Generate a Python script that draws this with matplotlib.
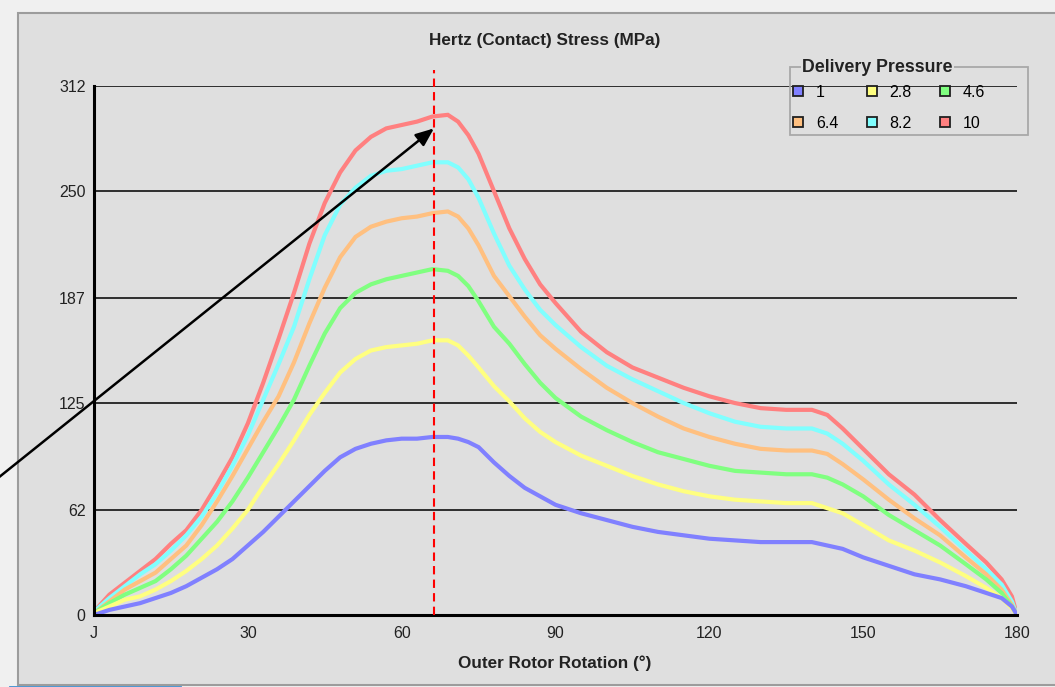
import matplotlib
matplotlib.use('Agg')
import matplotlib.pyplot as plt
from matplotlib.lines import Line2D
from matplotlib.patches import Rectangle

plt.rcParams['font.family'] = ['Liberation Sans', 'DejaVu Sans']

# outer rotor angle (deg)
angle = [0, 3, 6, 9, 12, 15, 18, 21, 24, 27, 30, 33, 36, 39, 42, 45, 48, 51, 54, 57,
         60, 63, 66, 69, 71, 73, 75, 78, 81, 84, 87, 90, 95, 100, 105, 110, 115, 120,
         125, 130, 135, 140, 143, 146, 150, 155, 160, 165, 170, 174, 177, 179, 180]

# hertz stress (MPa) for each delivery pressure
p1 = [0, 3, 5, 7, 10, 13, 17, 22, 27, 33, 41, 49, 58, 67, 76, 85, 93, 98, 101, 103,
      104, 104, 105, 105, 104, 102, 99, 90, 82, 75, 70, 65, 60, 56, 52, 49, 47, 45,
      44, 43, 43, 43, 41, 39, 34, 29, 24, 21, 17, 13, 10, 5, 0]
p2_8 = [1, 5, 9, 11, 15, 20, 26, 33, 41, 51, 62, 76, 89, 103, 118, 131, 143, 151, 156, 158,
        159, 160, 162, 162, 159, 153, 146, 135, 126, 116, 108, 102, 94, 88, 82, 77, 73, 70,
        68, 67, 66, 66, 63, 60, 53, 44, 38, 31, 23, 16, 10, 4, 0]
p4_6 = [1, 7, 12, 16, 20, 27, 35, 45, 55, 67, 81, 96, 111, 127, 147, 166, 181, 190, 195, 198,
        200, 202, 204, 203, 200, 194, 185, 170, 160, 148, 137, 128, 117, 109, 102, 96, 92, 88,
        85, 84, 83, 83, 81, 77, 70, 59, 50, 41, 30, 21, 13, 5, 0]
p6_4 = [1, 8, 15, 20, 25, 33, 41, 53, 67, 82, 98, 114, 129, 149, 172, 193, 211, 223, 229, 232,
        234, 235, 237, 238, 235, 228, 218, 200, 188, 176, 165, 157, 145, 134, 125, 117, 110, 105,
        101, 98, 97, 97, 95, 89, 80, 68, 57, 47, 34, 24, 15, 6, 0]
p8_2 = [2, 10, 17, 24, 30, 38, 47, 58, 72, 88, 106, 127, 148, 170, 198, 224, 242, 252, 259, 262,
        263, 265, 267, 267, 264, 257, 246, 225, 206, 192, 180, 171, 158, 147, 139, 132, 125, 119,
        114, 111, 110, 110, 107, 101, 91, 77, 65, 52, 38, 27, 18, 8, 0]
p10 = [2, 12, 19, 26, 33, 42, 50, 62, 77, 93, 113, 137, 163, 190, 219, 243, 261, 274, 282, 287,
       289, 291, 294, 295, 291, 283, 272, 250, 228, 210, 195, 184, 167, 155, 146, 140, 134, 129,
       125, 122, 121, 121, 118, 110, 98, 83, 71, 56, 42, 31, 21, 11, 0]

labels = ['1', '2.8', '4.6', '6.4', '8.2', '10']
series = [p1, p2_8, p4_6, p6_4, p8_2, p10]
colors = ['#8080ff', '#ffff80', '#80ff80', '#ffc080', '#80ffff', '#ff8080']

yticks = [0, 62, 125, 187, 250, 312]
xticks = [0, 30, 60, 90, 120, 150, 180]
xticklabels = ['J', '30', '60', '90', '120', '150', '180']
peak_angle = 66.4

W, H = 1055, 687
fig = plt.figure(figsize=(W / 100, H / 100), dpi=100, facecolor='#f0f0f0')

# grey panel behind the chart
fig.patches.append(Rectangle((18 / W, 2 / H), (W - 8) / W, (H - 15) / H,
                             transform=fig.transFigure, facecolor='#dfdfdf',
                             edgecolor='#9c9c9c', lw=1.5, zorder=-10))
fig.add_artist(Line2D([10 / W, 180 / W], [0.5 / H, 0.5 / H], color='#3d8fd1', lw=2))

ax = fig.add_axes([94 / W, 72 / H, 923 / W, 529 / H])
ax.set_facecolor('none')

# highest pressure first so the low curves sit on top
for vals, c in reversed(list(zip(series, colors))):
    ax.plot(angle, vals, color=c, lw=3.0, solid_joinstyle='miter')

ax.set_xlim(0, 180)
ax.set_ylim(0, 312)
ax.set_yticks(yticks)
ax.set_xticks(xticks)
ax.set_xticklabels(xticklabels)
ax.yaxis.grid(True, color='#202020', lw=1.3)
ax.set_axisbelow(True)
ax.tick_params(length=0, labelsize=11.5, colors='#222222')
ax.tick_params(axis='y', pad=6)
ax.tick_params(axis='x', pad=8)
for s in ['top', 'right']:
    ax.spines[s].set_visible(False)
for s in ['left', 'bottom']:
    ax.spines[s].set_linewidth(2.2)
    ax.spines[s].set_color('black')

ax.axvline(peak_angle, ymin=0, ymax=(615 - 70) / 529, color='#ff0000', lw=1.5,
           dashes=(4, 2.5), clip_on=False, zorder=5)

ax.annotate('', xy=(peak_angle - 0.1, 287), xycoords='data',
            xytext=(-2, H - 478), textcoords='figure pixels',
            arrowprops=dict(arrowstyle='-|>,head_length=1.1,head_width=0.45',
                            color='black', lw=1.8, shrinkA=0, shrinkB=0),
            annotation_clip=False, zorder=6)

fig.text(545 / W, 1 - 40 / H, 'Hertz (Contact) Stress (MPa)', ha='center', va='center',
         fontsize=12.3, fontweight='bold', color='#222222')
fig.text(555 / W, 1 - 663 / H, 'Outer Rotor Rotation (°)', ha='center', va='center',
         fontsize=12.3, fontweight='bold', color='#222222')

# group box around the legend
fig.patches.append(Rectangle((790 / W, 1 - 135 / H), 238 / W, 68 / H,
                             transform=fig.transFigure, facecolor='none',
                             edgecolor='#a8a8a8', lw=1.3, zorder=3))
fig.text(802 / W, 1 - 68 / H, 'Delivery Pressure', ha='left', va='center',
         fontsize=12.8, fontweight='bold', color='#222222', zorder=4,
         bbox=dict(facecolor='#dfdfdf', edgecolor='none', pad=1))

handles = [Line2D([], [], marker='s', linestyle='none', markersize=7.5,
                  markerfacecolor=c, markeredgecolor='#202020', markeredgewidth=1.3)
           for c in colors]
order = [0, 3, 1, 4, 2, 5]
ax.legend([handles[i] for i in order], [labels[i] for i in order], ncol=3,
          loc='upper left', bbox_to_anchor=(792 / W, 1 - 85 / H),
          bbox_transform=fig.transFigure, frameon=False, fontsize=11.5,
          handlelength=0.8, handletextpad=0.7, columnspacing=1.7,
          labelspacing=1.0, borderpad=0, borderaxespad=0)

fig.savefig('out.png', dpi=100, facecolor=fig.get_facecolor())
